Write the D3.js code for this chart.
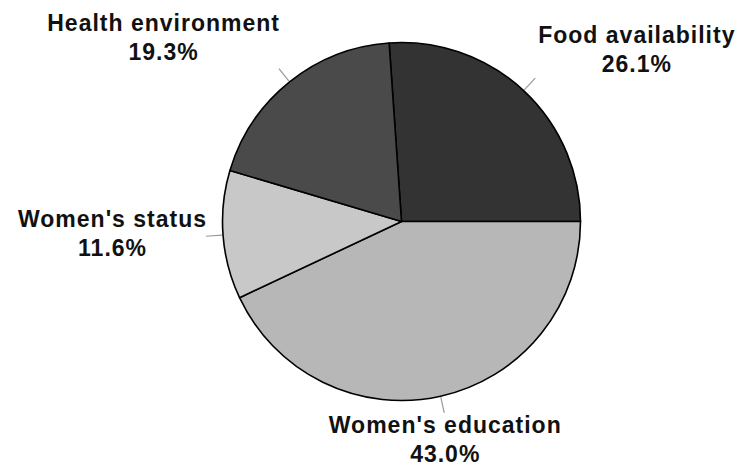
<!DOCTYPE html>
<html>
<head>
<meta charset="utf-8">
<script src="https://cdn.jsdelivr.net/npm/d3@7"></script>
<style>
  html, body { margin: 0; padding: 0; background: #fff; }
  svg text { font-family: "Liberation Sans", Arial, sans-serif; font-weight: bold; font-size: 23px; letter-spacing: 1px; fill: #111; }
</style>
</head>
<body>
<svg id="chart" width="736" height="469"></svg>
<script>
// Data
const categories = ["Food availability", "Women's education", "Women's status", "Health environment"];
const values = [26.1, 43.0, 11.6, 19.3];
const percentLabels = ["26.1%", "43.0%", "11.6%", "19.3%"];
const colors = ["#333333", "#b7b7b7", "#c8c8c8", "#4a4a4a"];

const svg = d3.select("#chart");
const cx = 401.5, cy = 221.5, r = 179;
const total = d3.sum(values);
const start = Math.PI / 2 - values[0] / total * 2 * Math.PI;

const pie = d3.pie().sort(null).value(d => d).startAngle(start).endAngle(start + 2 * Math.PI);
const arcs = pie(values);
const arc = d3.arc().innerRadius(0).outerRadius(r);

const g = svg.append("g").attr("transform", `translate(${cx},${cy})`);

g.selectAll("path.slice").data(arcs).enter().append("path")
  .attr("class", "slice")
  .attr("d", arc)
  .attr("fill", (d, i) => colors[i])
  .attr("stroke", "#000")
  .attr("stroke-width", 1.6)
  .attr("stroke-linejoin", "round");

const tickOut = r * 1.095;
const mid = d => (d.startAngle + d.endAngle) / 2;

g.selectAll("line.tick").data(arcs).enter().append("line")
  .attr("class", "tick")
  .attr("x1", d => Math.sin(mid(d)) * (r + 1))
  .attr("y1", d => -Math.cos(mid(d)) * (r + 1))
  .attr("x2", d => Math.sin(mid(d)) * tickOut)
  .attr("y2", d => -Math.cos(mid(d)) * tickOut)
  .attr("stroke", "#999")
  .attr("stroke-width", 1.2);

arcs.forEach((d, i) => {
  const a = mid(d);
  const s = Math.sin(a), c = Math.cos(a);
  const px = s * tickOut, py = -c * tickOut;
  const lg = g.append("g");
  const t1 = lg.append("text").attr("text-anchor", "middle").attr("dominant-baseline", "central").attr("y", -14.5).text(categories[i]);
  const t2 = lg.append("text").attr("text-anchor", "middle").attr("dominant-baseline", "central").attr("y", 14.5).text(percentLabels[i]);
  const w = Math.max(t1.node().getComputedTextLength(), t2.node().getComputedTextLength());
  let bx;
  if (s > 0.5) bx = px + 3 + w / 2;
  else if (s < -0.5) bx = px + 1 - w / 2;
  else bx = px + 1;
  const by = py - c * 33 - 5;
  lg.attr("transform", `translate(${bx},${by})`);
});
</script>
</body>
</html>
